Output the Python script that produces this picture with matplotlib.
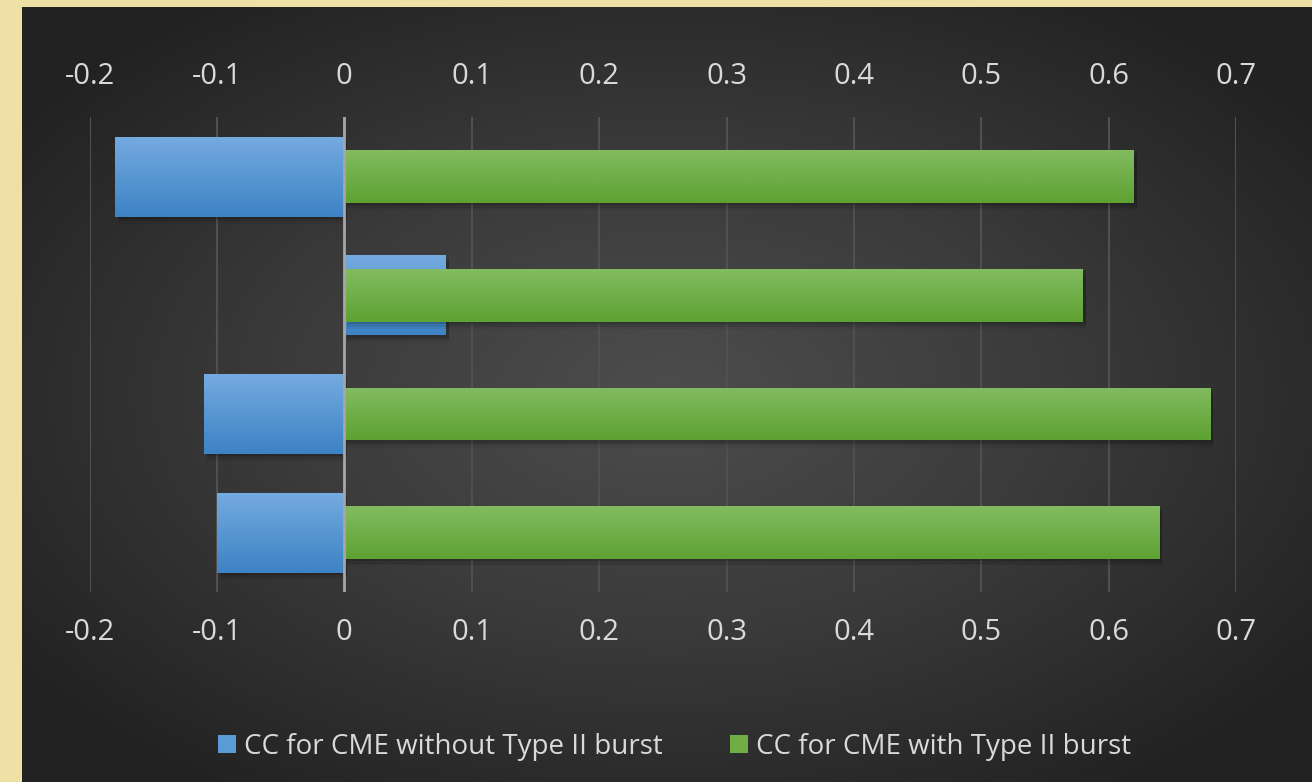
import numpy as np
import matplotlib
matplotlib.use("Agg")
from matplotlib import pyplot as plt
from matplotlib.patches import Rectangle
from matplotlib.colors import LinearSegmentedColormap

# Correlation coefficients per event group (top row first)
cc_without_type2 = [-0.18, 0.08, -0.11, -0.10]
cc_with_type2 = [0.62, 0.58, 0.68, 0.64]
series_names = ["CC for CME without Type II burst", "CC for CME with Type II burst"]
x_ticks = [-0.2, -0.1, 0, 0.1, 0.2, 0.3, 0.4, 0.5, 0.6, 0.7]

plt.rcParams['font.family'] = ['Open Sans', 'DejaVu Sans']
text_color = '#d9d9d9'

fig = plt.figure(figsize=(13.12, 7.82), dpi=100, facecolor='#efe0a6')

# dark panel with a soft radial highlight in the middle
bg = fig.add_axes([22 / 1312, 0, 1 - 22 / 1312, 775 / 782], zorder=0)
yy, xx = np.mgrid[0:1:400j, 0:1:700j]
r = np.sqrt(((xx - 0.5) / 0.62) ** 2 + ((yy - 0.5) / 0.62) ** 2)
r = np.clip(r, 0, 1)
bg_cmap = LinearSegmentedColormap.from_list('bg', ['#4d4d4d', '#3a3a3a', '#222222'])
bg.imshow(r, cmap=bg_cmap, aspect='auto', extent=(0, 1, 0, 1), interpolation='bilinear')
bg.set_axis_off()

ax = fig.add_axes([0.0683, 0.243, 0.8738, 0.607], zorder=1)
ax.set_facecolor('none')

n = len(cc_with_type2)
pos = np.arange(n)[::-1]
blue_h = 0.674
green_h = 0.446


def shaded_bars(values, height, top_col, bot_col, z):
    bars = ax.barh(pos, values, height=height, color=bot_col, zorder=z)
    grad = LinearSegmentedColormap.from_list('g', [top_col, bot_col])
    for b in bars:
        x0, y0 = b.get_x(), b.get_y()
        w, h = b.get_width(), b.get_height()
        # soft drop shadow, mostly below the bar
        for k, a in zip([0.02, 0.04, 0.06], [0.14, 0.09, 0.05]):
            ax.add_patch(Rectangle((x0 + 0.002, y0 - k), w, h, facecolor='black', alpha=a,
                                   edgecolor='none', zorder=z - 0.5))
        im = ax.imshow(np.linspace(0, 1, 64).reshape(-1, 1), cmap=grad, aspect='auto',
                       extent=(min(x0, x0 + w), max(x0, x0 + w), y0, y0 + h),
                       origin='upper', zorder=z + 0.1, interpolation='bilinear')
        im.set_clip_path(b)
    return bars


shaded_bars(cc_without_type2, blue_h, '#74aadf', '#3d83c5', 3)
shaded_bars(cc_with_type2, green_h, '#82bb60', '#5ea232', 5)

ax.set_xlim(-0.2, 0.7)
ax.set_ylim(-0.5, n - 0.5)
ax.set_xticks(x_ticks)
ax.set_xticklabels([f"{t:g}" for t in x_ticks])
ax.set_yticks([])
ax.grid(axis='x', color='#505050', linewidth=1.5, zorder=1)
ax.set_axisbelow(True)
ax.axvline(0, color='#a6a6a6', linewidth=2, zorder=6)
for s in ax.spines.values():
    s.set_visible(False)
ax.tick_params(axis='x', length=0, labelsize=21, labelcolor=text_color,
               top=False, labeltop=True, pad=19)

handles = [Rectangle((0, 0), 1, 1, facecolor='#5b9bd5'),
           Rectangle((0, 0), 1, 1, facecolor='#70ad47')]
fig.legend(handles, series_names, loc='center', bbox_to_anchor=(0.514, 0.045),
           ncol=2, frameon=False, fontsize=20, labelcolor=text_color,
           handlelength=0.65, handleheight=0.65, handletextpad=0.3, columnspacing=2.4)

fig.savefig('out.png', dpi=100, facecolor=fig.get_facecolor())
